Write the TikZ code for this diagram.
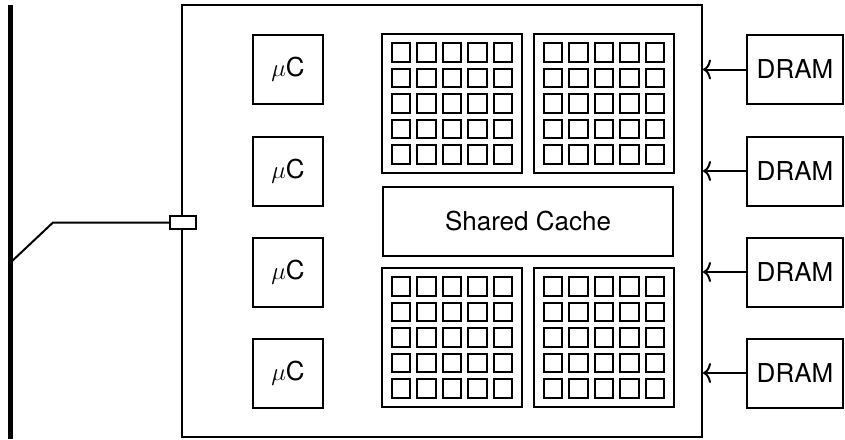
\documentclass[tikz,border=0pt]{standalone}
\usepackage{fontspec}
\setmainfont{TeX Gyre Heros}
\usetikzlibrary{arrows.meta,calc}
\begin{document}
\begin{tikzpicture}[x=1pt,y=-1pt,
  thinbox/.style={draw, line width=2pt, inner sep=0pt, font=\fontsize{26}{30}\selectfont},
  mcbox/.style={thinbox, minimum width=70pt, minimum height=69pt},
  drambox/.style={thinbox, minimum width=96pt, minimum height=69pt},
  block/.style={draw, line width=2pt, minimum width=140pt, minimum height=139pt, inner sep=0pt},
  cell/.style={draw, line width=2.2pt, minimum size=18.5pt, inner sep=0pt},
  arr/.style={line width=2pt, -{To[length=8pt,width=20pt]}},
  wire/.style={line width=2pt}
]
\useasboundingbox (0,0) rectangle (845,439);
% backbone bus
\coordinate (bustop) at (10,5);
\coordinate (busbot) at (10,439);
\draw[line width=5pt] (bustop) -- (busbot);
% chip
\node[draw, line width=2pt, minimum width=520pt, minimum height=432pt, inner sep=0pt] (chip) at (442,221) {};
% microcontrollers
\node[mcbox] (mc1) at (288,69.5) {$\mu$C};
\node[mcbox] (mc2) at (288,171) {$\mu$C};
\node[mcbox] (mc3) at (288,272) {$\mu$C};
\node[mcbox] (mc4) at (288,373) {$\mu$C};
% core blocks
\node[block] (tl) at (452,103.5) {};
\node[block] (tr) at (604,103.5) {};
\node[block] (bl) at (452,337.5) {};
\node[block] (br) at (604,337.5) {};
\foreach \b in {tl,tr,bl,br}{
  \foreach \i in {-2,...,2}{
    \foreach \j in {-2,...,2}{
      \node[cell] at ($(\b)+(\i*25.5,\j*25.5)$) {};
    }
  }
}
% shared cache
\node[thinbox, minimum width=290pt, minimum height=69pt] (cache) at (528,221.5) {Shared Cache};
% DRAMs
\node[drambox] (d1) at (795,69.5) {DRAM};
\node[drambox] (d2) at (795,171) {DRAM};
\node[drambox] (d3) at (795,272) {DRAM};
\node[drambox] (d4) at (795,373) {DRAM};
\foreach \d in {d1,d2,d3,d4}{
  \draw[arr] (\d.west) -- (\d.west -| chip.east);
}
% port and link
\node[draw, line width=2pt, fill=white, minimum width=26pt, minimum height=13pt, inner sep=0pt] (port) at (183,222.5) {};
\coordinate (tap) at (10,263);
\coordinate (bend) at (53,222.5);
\draw[wire] (tap) -- (bend) -- (port.west);
\end{tikzpicture}
\end{document}
